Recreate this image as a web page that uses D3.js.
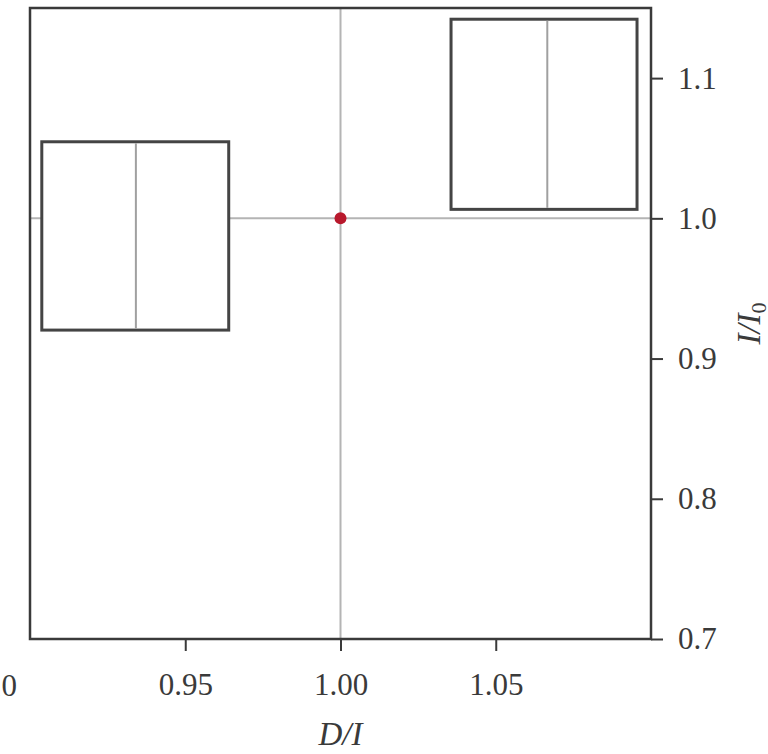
<!DOCTYPE html>
<html>
<head>
<meta charset="utf-8">
<script src="https://cdn.jsdelivr.net/npm/d3@7"></script>
<style>
  html, body { margin: 0; padding: 0; background: #fff; }
  svg { display: block; }
  text { font-family: "Liberation Serif", "DejaVu Serif", serif; fill: #3a3a3a; }
</style>
</head>
<body>
<svg id="chart" width="768" height="754"></svg>
<script>
// Axis limits and ticks
const xDomain = [0.90, 1.10];
const yDomain = [0.70, 1.15];
const xTicks = [0.95, 1.00, 1.05];
const yTicks = [0.7, 0.8, 0.9, 1.0, 1.1];
const xTickLabels = ["0.95", "1.00", "1.05"];
const yTickLabels = ["0.7", "0.8", "0.9", "1.0", "1.1"];

// Boxes: horizontal extent, median, vertical extent
const boxLow = [0.9038, 1.0356];
const boxMedian = [0.9341, 1.0666];
const boxHigh = [0.9640, 1.0955];
const boxBottom = [0.9203, 1.0064];
const boxTop = [1.0546, 1.1420];

// Reference point
const refX = [1.0];
const refY = [1.0];

const svg = d3.select("#chart");
const mLeft = 30, mRight = 651, mTop = 8, mBottom = 639;

const x = d3.scaleLinear().domain(xDomain).range([mLeft, mRight]);
const y = d3.scaleLinear().domain(yDomain).range([mBottom, mTop]);

// Reference lines at x = 1 and y = 1
svg.append("g").selectAll("line").data(refX).join("line")
  .attr("x1", d => x(d)).attr("x2", d => x(d))
  .attr("y1", y(yDomain[0])).attr("y2", y(yDomain[1]))
  .attr("stroke", "#b4b4b4").attr("stroke-width", 2);
svg.append("g").selectAll("line").data(refY).join("line")
  .attr("x1", x(xDomain[0])).attr("x2", x(xDomain[1]))
  .attr("y1", d => y(d)).attr("y2", d => y(d))
  .attr("stroke", "#b4b4b4").attr("stroke-width", 2);

// Boxes with median lines
const boxes = d3.range(boxLow.length).map(i => ({
  lo: boxLow[i], med: boxMedian[i], hi: boxHigh[i], b: boxBottom[i], t: boxTop[i]
}));
const bg = svg.append("g");
bg.selectAll("rect").data(boxes).join("rect")
  .attr("x", d => x(d.lo)).attr("width", d => x(d.hi) - x(d.lo))
  .attr("y", d => y(d.t)).attr("height", d => y(d.b) - y(d.t))
  .attr("fill", "#fff").attr("stroke", "#444").attr("stroke-width", 3);
bg.selectAll("line").data(boxes).join("line")
  .attr("x1", d => x(d.med)).attr("x2", d => x(d.med))
  .attr("y1", d => y(d.t) + 1.5).attr("y2", d => y(d.b) - 1.5)
  .attr("stroke", "#a0a0a0").attr("stroke-width", 2);

// Red reference marker
svg.append("g").selectAll("circle").data(refX.map((d, i) => [d, refY[i]])).join("circle")
  .attr("cx", d => x(d[0])).attr("cy", d => y(d[1])).attr("r", 6)
  .attr("fill", "#b8182c");

// Frame
svg.append("rect")
  .attr("x", mLeft).attr("y", mTop).attr("width", mRight - mLeft).attr("height", mBottom - mTop)
  .attr("fill", "none").attr("stroke", "#3a3a3a").attr("stroke-width", 2.5);

// Bottom axis
const xAxis = d3.axisBottom(x).tickValues(xTicks)
  .tickFormat((d, i) => xTickLabels[i]).tickSize(12).tickPadding(22);
const gx = svg.append("g").attr("transform", `translate(0,${mBottom})`).call(xAxis);
gx.select(".domain").remove();
gx.selectAll(".tick line").attr("stroke", "#3a3a3a").attr("stroke-width", 2);
gx.selectAll(".tick text").attr("font-size", 31).attr("fill", "#3a3a3a")
  .attr("font-family", "Liberation Serif, serif");

// Right axis
const yAxis = d3.axisRight(y).tickValues(yTicks)
  .tickFormat((d, i) => yTickLabels[i]).tickSize(12).tickPadding(15);
const gy = svg.append("g").attr("transform", `translate(${mRight},0)`).call(yAxis);
gy.select(".domain").remove();
gy.selectAll(".tick line").attr("stroke", "#3a3a3a").attr("stroke-width", 2);
gy.selectAll(".tick text").attr("font-size", 31).attr("fill", "#3a3a3a")
  .attr("font-family", "Liberation Serif, serif");

// Label of the neighbouring panel's last tick, cut by the edge
svg.append("text").attr("x", 17).attr("y", 696).attr("text-anchor", "end")
  .attr("font-size", 31).text("1.10");

// Axis titles
svg.append("text").attr("x", (mLeft + mRight) / 2).attr("y", 745)
  .attr("text-anchor", "middle").attr("font-size", 33).attr("font-style", "italic")
  .text("D/I");
const yl = svg.append("text")
  .attr("transform", `translate(760,${(mTop + mBottom) / 2}) rotate(-90)`)
  .attr("text-anchor", "middle").attr("font-size", 33).attr("font-style", "italic");
yl.append("tspan").text("I/I");
yl.append("tspan").attr("font-size", 22).attr("dy", 6).attr("font-style", "normal").text("0");
</script>
</body>
</html>
